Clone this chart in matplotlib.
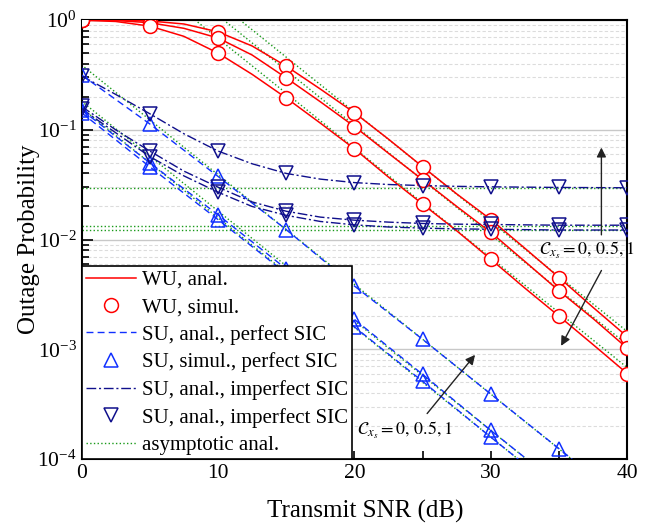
import numpy as np
import matplotlib
matplotlib.use('Agg')
import matplotlib.pyplot as plt
from matplotlib.ticker import LogLocator, MultipleLocator, NullFormatter

plt.rcParams['font.family'] = ['Liberation Serif', 'DejaVu Serif']
plt.rcParams['mathtext.fontset'] = 'stix'

# SNR grids (dB)
snr = np.arange(0, 40.1, 5)
snr_fine = np.arange(0, 40.1, 2.5)
snr_ends = [0, 40]

# weak user (WU), three C_xs values
wu_a = [1.0, 0.997, 0.98, 0.92, 0.78, 0.58, 0.38, 0.235, 0.143, 0.082, 0.046, 0.026, 0.0152, 0.0083, 0.0045, 0.0024, 0.0013]
wu_b = [1.0, 0.99, 0.945, 0.84, 0.686, 0.48, 0.297, 0.18, 0.107, 0.061, 0.035, 0.020, 0.0116, 0.0063, 0.0034, 0.0019, 0.00102]
wu_c = [0.995, 0.97, 0.88, 0.71, 0.50, 0.32, 0.195, 0.115, 0.067, 0.037, 0.021, 0.012, 0.0066, 0.0036, 0.0020, 0.0011, 0.0006]

# strong user (SU), perfect SIC
su_p1 = [0.316, 0.113, 0.0376, 0.0123, 0.00377, 0.00123, 0.00039, 0.000124, 0.000039]
su_p2 = [0.152, 0.050, 0.0168, 0.0054, 0.00187, 0.00059, 0.000182, 0.000058, 0.000018]
su_p3 = [0.143, 0.046, 0.0152, 0.0049, 0.0016, 0.00051, 0.000158, 0.00005, 0.0000158]

# strong user (SU), imperfect SIC
su_i1 = [0.31, 0.21, 0.14, 0.092, 0.064, 0.049, 0.040, 0.0355, 0.033, 0.0317, 0.031, 0.0305, 0.0302, 0.030, 0.0298, 0.0297, 0.0296]
su_i2 = [0.163, 0.10, 0.064, 0.042, 0.030, 0.022, 0.0181, 0.016, 0.0150, 0.0144, 0.0140, 0.0138, 0.0137, 0.0136, 0.0135, 0.0135, 0.0135]
su_i3 = [0.155, 0.094, 0.057, 0.038, 0.027, 0.020, 0.0166, 0.0146, 0.0136, 0.0130, 0.0127, 0.0125, 0.0124, 0.0123, 0.0122, 0.0122, 0.0122]

# asymptotes (values at 0 dB and 40 dB)
asym_wu = [[14.5, 0.00145], [11.0, 0.0011], [6.8, 0.00068]]
asym_su = [[0.39, 0.000039], [0.182, 0.0000182], [0.158, 0.0000158]]
floors = [0.0294, 0.0134, 0.0121]

red = '#ff0000'
blue = '#1030ff'
navy = '#10108c'
green = '#1a9a1a'

fig = plt.figure(figsize=(6.49, 5.25), dpi=100)
ax = fig.add_axes([0.1256, 0.1257, 0.8410, 0.8362])

# asymptotic lines
for i, v in enumerate(asym_wu + asym_su):
    ax.plot(snr_ends, v, color=green, ls=':', lw=1.0, zorder=2,
            label='asymptotic anal.' if i == 0 else None)
for f in floors:
    ax.plot(snr_ends, [f, f], color=green, ls=':', lw=1.0, zorder=2)

# WU
for i, v in enumerate([wu_a, wu_b, wu_c]):
    ax.plot(snr_fine, v, color=red, lw=1.1, zorder=3,
            label='WU, anal.' if i == 0 else None)
    ax.plot(snr, v[::2], ls='none', marker='o', ms=10, mfc='white', mec=red,
            mew=1.1, zorder=5, label='WU, simul.' if i == 0 else None)

# SU perfect
for i, v in enumerate([su_p1, su_p2, su_p3]):
    ax.plot(snr, v, color=blue, ls=(0, (5, 3)), lw=1.0, zorder=3,
            label='SU, anal., perfect SIC' if i == 0 else None)
    ax.plot(snr, v, ls='none', marker='^', ms=10, mfc='none', mec=blue,
            mew=1.1, zorder=5, label='SU, simul., perfect SIC' if i == 0 else None)

# SU imperfect
for i, v in enumerate([su_i1, su_i2, su_i3]):
    ax.plot(snr_fine, v, color=navy, ls=(0, (7, 2, 1.5, 2)), lw=1.0, zorder=3,
            label='SU, anal., imperfect SIC' if i == 0 else None)
    ax.plot(snr, v[::2], ls='none', marker='v', ms=10, mfc='none', mec=navy,
            mew=1.1, zorder=5, label='SU, anal., imperfect SIC' if i == 0 else None)

ax.set_yscale('log')
ax.set_xlim(0, 40)
ax.set_ylim(1e-4, 1)
ax.xaxis.set_major_locator(MultipleLocator(10))
ax.xaxis.set_minor_locator(MultipleLocator(5))
ax.yaxis.set_major_locator(LogLocator(base=10, numticks=10))
ax.yaxis.set_minor_locator(LogLocator(base=10, subs=np.arange(2, 10), numticks=10))
ax.yaxis.set_minor_formatter(NullFormatter())

ax.grid(True, which='major', axis='y', color='#c8c8c8', lw=1.0, ls='-')
ax.grid(True, which='minor', axis='y', color='#dcdcdc', lw=0.8, ls=(0, (3, 2)))
ax.set_axisbelow(True)

ax.tick_params(which='both', direction='in', top=False, right=False, labelsize=15.5, width=1.2)
ax.tick_params(axis='y', which='major', length=8)
ax.tick_params(axis='y', which='minor', length=5)
ax.tick_params(axis='x', which='both', length=6)
for s in ax.spines.values():
    s.set_linewidth(1.5)

ax.set_xlabel('Transmit SNR (dB)', fontsize=18, labelpad=12, x=0.519)
ax.set_ylabel('Outage Probability', fontsize=18, labelpad=-2)

# legend in the requested order
h, l = ax.get_legend_handles_labels()
order = ['WU, anal.', 'WU, simul.', 'SU, anal., perfect SIC', 'SU, simul., perfect SIC',
         'SU, anal., imperfect SIC', 'asymptotic anal.']
hs, ls_ = [], []
imp = [k for k, lab in enumerate(l) if lab == 'SU, anal., imperfect SIC']
for name in order:
    if name == 'SU, anal., imperfect SIC':
        for k in imp:
            hs.append(h[k]); ls_.append(l[k])
    else:
        k = l.index(name)
        hs.append(h[k]); ls_.append(l[k])
leg = ax.legend(hs, ls_, loc='lower left', bbox_to_anchor=(0, 0), borderaxespad=0,
                fontsize=15, handlelength=2.4, labelspacing=0.37, handletextpad=0.3,
                borderpad=0.2, fancybox=False, framealpha=1, edgecolor='black')
leg.get_frame().set_linewidth(1.2)
leg.set_zorder(10)

# annotations
arr = dict(arrowstyle='-|>', color='#222222', lw=1.0, mutation_scale=14)
ax.annotate('', xy=(38.1, 0.073), xytext=(38.1, 0.0104), arrowprops=arr, zorder=6)
ax.annotate('', xy=(35.05, 0.00102), xytext=(38.2, 0.0055), arrowprops=arr, zorder=6)
ax.text(33.5, 0.0079, r'$\mathcal{C}_{x_s}=0,\,0.5,1$', fontsize=13, ha='left', va='center', zorder=6)
ax.annotate('', xy=(28.97, 0.00093), xytext=(25.2, 0.000248), arrowprops=arr, zorder=6)
ax.text(20.2, 0.000181, r'$\mathcal{C}_{x_s}=0,\,0.5,1$', fontsize=13, ha='left', va='center', zorder=6)

fig.savefig('out.png', dpi=100)
